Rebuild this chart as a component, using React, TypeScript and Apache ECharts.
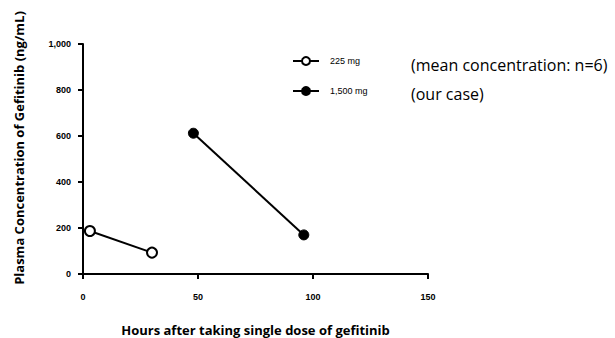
import React, { useEffect, useRef } from "react";
import * as echarts from "echarts";

const series225Hours = [3, 30];
const series225Values = [187, 93];
const series1500Hours = [48, 96];
const series1500Values = [612, 170];
const legendNames = ["225 mg", "1,500 mg"];
const legendNotes = ["(mean concentration: n=6)", "(our case)"];

export default function App() {
  const ref = useRef<HTMLDivElement>(null);
  useEffect(() => {
    if (!ref.current) return;
    const chart = echarts.init(ref.current, undefined, { renderer: "svg" });
    const font = "Arial, 'Liberation Sans', sans-serif";
    const titleFont = "'Open Sans', 'DejaVu Sans', sans-serif";
    chart.setOption({
      animation: false,
      backgroundColor: "#fff",
      grid: { left: 83, right: 187, top: 44, bottom: 64, outerBoundsMode: "none" },
      xAxis: {
        type: "value",
        min: 0,
        max: 150,
        interval: 50,
        name: "Hours after taking single dose of gefitinib",
        nameLocation: "middle",
        nameGap: 49,
        nameTextStyle: { fontFamily: titleFont, fontWeight: "bold", fontSize: 13, color: "#000" },
        axisLine: { onZero: false, lineStyle: { color: "#000", width: 2 } },
        axisTick: { show: true, length: 5, lineStyle: { color: "#000", width: 2 } },
        axisLabel: { margin: 18, fontFamily: font, fontWeight: "bold", fontSize: 9, color: "#000" },
        splitLine: { show: false },
      },
      yAxis: {
        type: "value",
        min: 0,
        max: 1000,
        interval: 200,
        name: "Plasma Concentration of Gefitinib (ng/mL)",
        nameLocation: "middle",
        nameGap: 58,
        nameTextStyle: {
          fontFamily: titleFont,
          fontWeight: "bold",
          fontSize: 13,
          color: "#000",
          padding: [0, 0, 0, 22],
        },
        axisLine: { show: true, lineStyle: { color: "#000", width: 2 } },
        axisTick: { show: true, length: 5, lineStyle: { color: "#000", width: 2 } },
        axisLabel: {
          margin: 12,
          fontFamily: font,
          fontWeight: "bold",
          fontSize: 9,
          color: "#000",
          formatter: (v: number) => v.toLocaleString("en-US"),
        },
        splitLine: { show: false },
      },
      legend: {
        orient: "vertical",
        left: 287,
        top: 51,
        itemWidth: 26,
        itemHeight: 10,
        itemGap: 20,
        data: legendNames,
        textStyle: { fontFamily: font, fontSize: 9, color: "#000", padding: [0, 0, 0, 6] },
      },
      graphic: [
        {
          type: "text",
          left: 411,
          top: 57,
          style: { text: legendNotes[0], fontFamily: titleFont, fontSize: 16, fill: "#000" },
        },
        {
          type: "text",
          left: 411,
          top: 86,
          style: { text: legendNotes[1], fontFamily: titleFont, fontSize: 16, fill: "#000" },
        },
      ],
      series: [
        {
          name: legendNames[0],
          type: "line",
          data: series225Hours.map((h, i) => [h, series225Values[i]]),
          symbol: "circle",
          symbolSize: 10,
          itemStyle: { color: "#fff", borderColor: "#000", borderWidth: 2 },
          lineStyle: { color: "#000", width: 2 },
        },
        {
          name: legendNames[1],
          type: "line",
          data: series1500Hours.map((h, i) => [h, series1500Values[i]]),
          symbol: "circle",
          symbolSize: 10,
          itemStyle: { color: "#000", borderColor: "#000", borderWidth: 1 },
          lineStyle: { color: "#000", width: 2 },
        },
      ],
    });
    return () => chart.dispose();
  }, []);
  return <div ref={ref} style={{ width: 615, height: 338, position: "absolute", left: 0, top: 0 }} />;
}
